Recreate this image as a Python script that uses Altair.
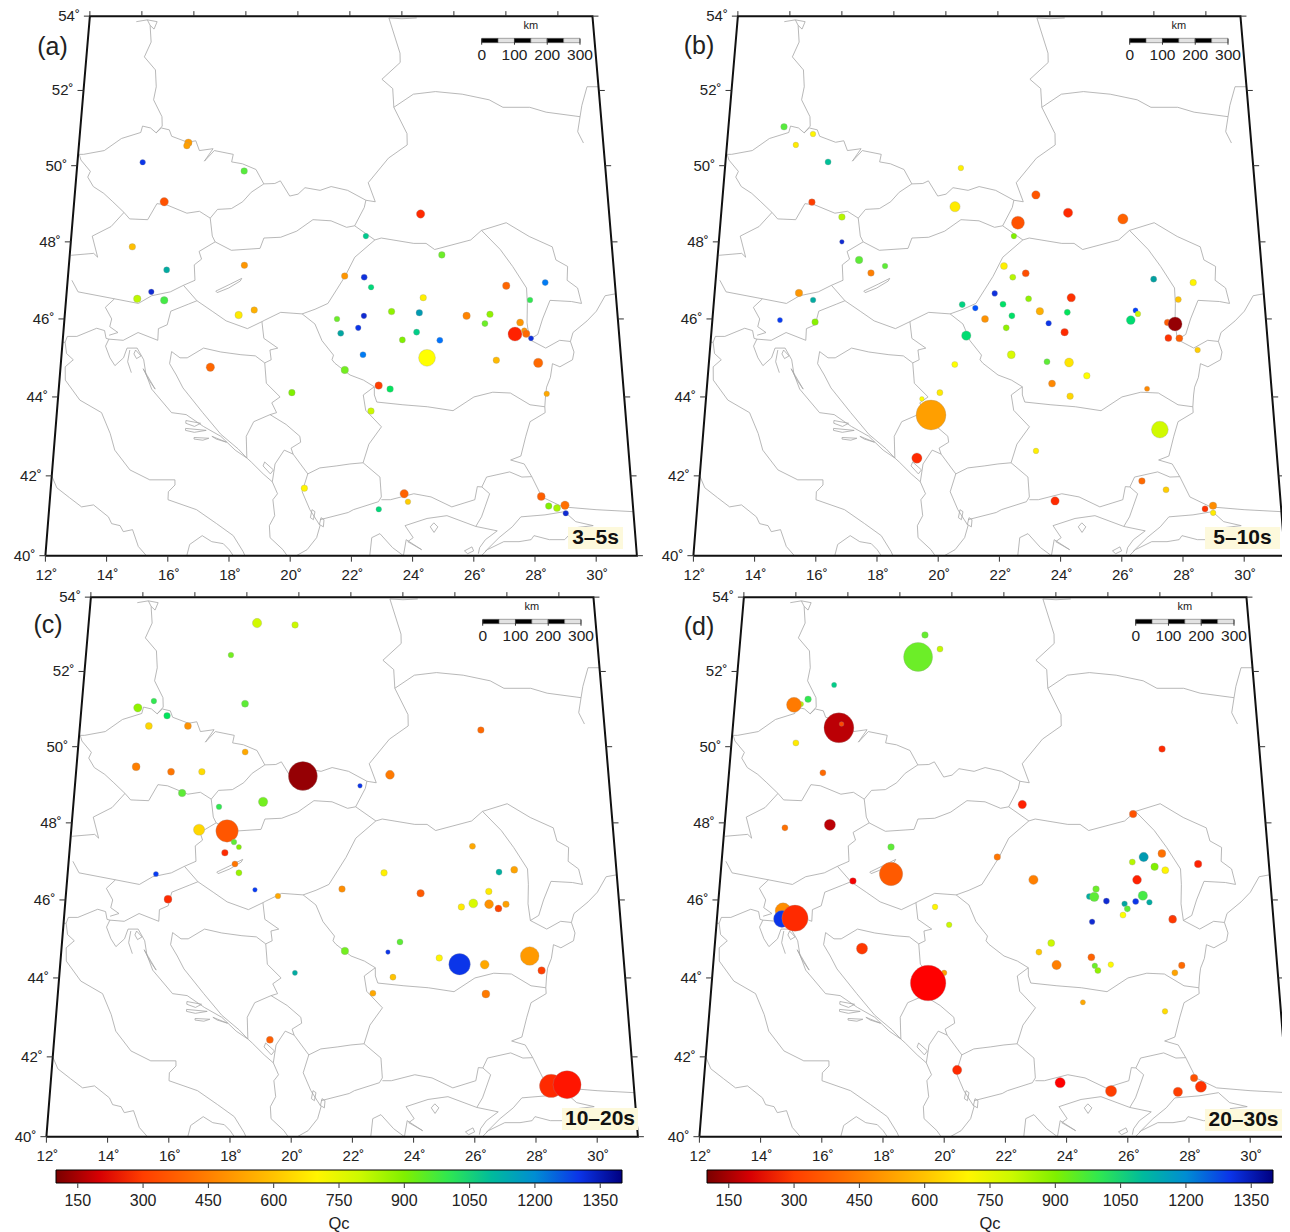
import numpy as np
import pandas as pd
import altair as alt

# ---------- Borders and coastlines, (lon, lat) ----------
GER_POL = [(14.22,53.9),(14.34,53.75),(14.42,53.3),(14.2,52.9),(14.65,52.55),(14.72,52.1),(14.65,51.75),(15.0,51.3),(15.03,51.05),(14.82,50.87)]
GER_CZE = [(14.82,50.87),(14.6,51.0),(14.3,51.05),(14.25,50.88),(13.55,50.72),(12.95,50.4),(12.2,50.3),(12.04,50.3),(12.12,50.15),(12.5,49.85),(12.42,49.7),(12.65,49.45),(13.05,49.27),(13.4,49.05),(13.83,48.77)]
CZE_AUT = [(13.83,48.77),(14.05,48.6),(14.7,48.58),(15.0,49.0),(15.35,48.97),(16.1,48.75),(16.55,48.8),(16.95,48.62)]
CZE_POL = [(14.82,50.87),(15.0,51.0),(15.3,50.95),(15.4,50.78),(16.0,50.62),(16.3,50.66),(16.45,50.4),(16.95,50.45),(16.65,50.12),(17.0,50.4),(17.7,50.3),(17.65,50.1),(18.05,50.05),(18.55,49.9),(18.85,49.52)]
CZE_SVK = [(18.85,49.52),(18.4,49.3),(18.1,49.05),(17.7,48.87),(17.2,48.85),(16.95,48.62)]
POL_SVK = [(18.85,49.52),(19.25,49.53),(19.45,49.6),(19.8,49.2),(20.1,49.25),(20.35,49.42),(20.9,49.35),(21.3,49.45),(21.9,49.35),(22.56,49.09)]
POL_EAST = [(22.56,49.09),(22.9,49.05),(22.65,49.55),(23.4,50.2),(24.1,50.55),(24.1,50.85),(23.63,51.55),(23.6,52.05),(23.2,52.3),(23.9,52.75),(23.9,53.0),(23.5,53.95),(24.0,53.93),(24.57,53.95)]
UKR_BLR = [(23.63,51.55),(24.37,51.9),(25.2,51.97),(26.2,51.9),(27.2,51.75),(27.7,51.55),(28.7,51.55),(29.3,51.42),(30.55,51.3),(30.65,51.6),(30.9,52.1),(31.33,52.1)]
KIEV_RES = [(30.55,51.3),(30.42,50.9),(30.6,50.6)]
AUT_SVK = [(16.95,48.62),(17.05,48.15),(17.16,48.0)]
HUN_SVK = [(17.16,48.0),(17.75,47.78),(18.77,47.83),(18.9,48.1),(19.5,48.12),(20.07,48.28),(20.65,48.58),(21.3,48.55),(21.86,48.38),(22.15,48.42)]
SVK_UKR = [(22.15,48.42),(22.5,48.9),(22.56,49.09)]
HUN_UKR = [(22.15,48.42),(22.87,48.05)]
RO_HUN = [(22.87,48.05),(22.15,47.6),(21.8,47.1),(21.5,46.75),(21.2,46.4),(20.75,46.25),(20.3,46.13)]
HUN_SRB = [(20.3,46.13),(19.55,46.17),(19.0,45.97),(18.9,45.93)]
HUN_HRV = [(18.9,45.93),(18.4,45.75),(17.65,45.95),(17.15,46.2),(16.6,46.47)]
HUN_AUT = [(16.6,46.47),(16.1,46.87),(16.5,47.0),(16.45,47.4),(16.7,47.55),(16.6,47.75),(17.16,48.0)]
AUT_SVN = [(16.1,46.87),(15.65,46.7),(15.0,46.6),(14.55,46.4),(13.7,46.52)]
AUT_ITA = [(13.7,46.52),(12.4,46.7),(12.15,47.0)]
AUT_GER = [(13.83,48.77),(13.4,48.4),(12.75,48.15),(13.0,47.6),(12.85,47.7),(12.05,47.65)]
SVN_ITA = [(13.7,46.52),(13.4,46.3),(13.65,46.0),(13.6,45.8),(13.9,45.65),(13.6,45.58)]
SVN_HRV = [(16.6,46.47),(16.3,46.38),(15.7,46.2),(15.6,45.85),(15.3,45.75),(15.3,45.45),(14.6,45.65),(14.1,45.45),(13.6,45.48)]
BIH_N = [(15.8,45.16),(16.1,45.0),(16.35,45.0),(16.9,45.25),(17.5,45.15),(18.2,45.08),(18.7,45.05),(19.03,44.87)]
BIH_S = [(15.8,45.16),(15.75,44.85),(16.0,44.56),(16.25,44.23),(16.96,43.6),(17.6,43.05),(18.2,42.68),(18.5,42.45)]
HRV_SRB = [(18.9,45.93),(18.98,45.5),(19.47,45.25),(19.2,45.2),(19.25,44.95),(19.03,44.87)]
BIH_SRB = [(19.03,44.87),(19.1,44.35),(19.58,44.0),(19.3,43.85),(19.47,43.6),(19.25,43.55)]
BIH_MNE = [(19.25,43.55),(18.7,43.37),(18.46,43.0),(18.5,42.45)]
SRB_MNE = [(19.25,43.55),(19.8,43.3),(20.27,43.0),(20.3,42.85),(19.98,42.7),(20.05,42.55)]
MNE_ALB = [(20.05,42.55),(19.75,42.65),(19.45,42.3),(19.37,41.85)]
ALB_E = [(20.05,42.55),(20.55,42.05),(20.37,41.6),(20.63,41.15),(20.97,40.75),(20.86,40.45),(20.55,40.15),(20.2,40.0)]
MKD_N = [(20.55,42.05),(20.95,42.2),(21.5,42.25),(21.96,42.3),(22.4,42.33)]
MKD_BGR = [(22.4,42.33),(22.96,41.97),(23.0,41.47)]
MKD_GRC = [(20.97,40.9),(21.9,41.08),(22.07,41.15),(22.9,41.35),(23.0,41.47)]
BGR_GRC = [(23.0,41.4),(23.3,41.4),(24.08,41.55),(24.65,41.47),(25.33,41.22),(26.1,41.4),(26.2,41.73),(26.35,41.72)]
GRC_TUR = [(26.35,41.72),(26.6,41.55),(26.43,41.22),(26.3,40.97),(26.1,40.73)]
BGR_TUR = [(26.35,41.72),(26.52,41.97),(27.3,42.1),(27.7,41.97),(28.03,41.98)]
BG_COAST = [(28.03,41.98),(27.8,42.3),(27.35,42.4),(27.7,42.5),(27.9,43.0),(28.07,43.37),(28.6,43.6),(28.6,43.75)]
BGR_RO = [(28.6,43.75),(28.1,43.8),(27.45,44.1),(26.85,44.12),(26.2,44.0),(25.47,43.65),(24.6,43.75),(23.77,43.8),(22.88,43.87),(22.8,44.05),(22.8,44.26)]
BGR_SRB = [(22.8,44.26),(22.42,44.05),(22.5,43.66),(23.03,43.24),(22.6,42.8),(22.4,42.33)]
RO_SRB = [(20.3,46.13),(20.75,45.87),(21.0,45.44),(21.4,45.07),(21.35,44.95),(21.45,44.86),(21.97,44.56),(22.43,44.43),(22.8,44.26)]
RO_UKR = [(22.87,48.05),(23.1,48.1),(24.26,47.96),(24.7,47.96),(25.0,47.8),(26.3,48.05),(26.7,48.3)]
RO_MDA = [(26.7,48.3),(27.34,47.8),(27.75,47.36),(28.2,46.8),(28.2,46.4),(28.15,45.9),(28.2,45.47)]
MDA_UKR = [(26.7,48.3),(27.6,48.5),(28.4,48.14),(29.2,47.87),(29.3,47.53),(29.7,47.36),(29.65,47.0),(30.0,46.8),(30.1,46.4),(29.75,46.45),(29.0,46.48),(28.7,46.0),(28.5,45.6),(28.2,45.47)]
DANUBE = [(28.2,45.47),(28.75,45.25),(29.25,45.45),(29.62,45.42)]
BLACK_N = [(31.33,46.65),(30.95,46.6),(30.6,46.2),(30.25,45.95),(29.73,45.65),(29.62,45.42),(29.72,45.15),(29.65,44.95),(29.2,44.77),(28.95,44.85),(28.85,44.5),(28.7,44.25),(28.65,44.05),(28.6,43.75)]
TUR_N = [(28.03,41.98),(28.33,41.47),(29.0,41.22),(30.1,41.15),(31.33,41.1)]
TUR_MARM_N = [(29.05,41.1),(28.4,41.02),(27.6,40.97),(27.3,40.72),(26.85,40.45),(26.37,40.1)]
TUR_MARM_S = [(29.05,41.1),(29.4,40.85),(29.97,40.75),(29.4,40.7),(29.0,40.4),(28.5,40.4),(28.0,40.5),(27.9,40.4),(27.5,40.35),(27.0,40.35),(26.45,40.15),(26.25,40.0)]
SAROS = [(26.1,40.73),(26.8,40.62),(26.4,40.4),(26.2,40.2),(26.15,40.05)]
GRC_COAST = [(26.1,40.73),(25.16,41.0),(24.5,40.93),(23.77,40.75),(24.03,40.45),(23.85,40.35),(24.3,40.15),(23.8,40.4),(23.7,40.0),(23.35,40.2),(22.94,40.55),(22.67,40.45),(22.6,40.0)]
THASOS = [(24.6,40.72),(24.72,40.82),(24.85,40.72),(24.72,40.58),(24.6,40.72)]
GOKCEADA = [(25.7,40.12),(25.95,40.22),(26.0,40.12),(25.8,40.05),(25.7,40.12)]
ITA_EAST = [(12.0,45.4),(12.09,45.4),(12.15,45.55),(12.48,45.55),(13.15,45.76),(13.43,45.7),(13.5,45.5)]
ITA_ADR = [(12.09,45.4),(12.17,45.11),(12.42,44.95),(12.16,44.77),(12.2,44.43),(12.75,43.92),(13.52,43.6),(13.86,43.07),(14.05,42.65),(14.6,42.15),(15.28,41.9),(16.12,41.9),(16.13,41.77),(15.92,41.6),(15.92,41.4),(16.88,41.15),(17.56,40.8),(18.12,40.5),(18.46,40.1),(18.52,40.0)]
ITA_TAR = [(16.62,40.0),(16.7,40.28),(17.1,40.5),(17.42,40.35),(17.8,40.3),(18.0,40.15),(18.14,40.0)]
ITA_TYR = [(12.0,42.0),(12.2,41.7),(12.65,41.45),(13.07,41.22),(13.46,41.27),(13.98,40.97),(14.1,40.8),(14.38,40.75),(14.5,40.6),(14.8,40.65),(15.02,40.23),(15.3,40.0)]
HRV_COAST = [(13.5,45.5),(13.6,45.48),(13.5,45.3),(13.68,45.0),(13.87,44.8),(14.15,45.0),(14.25,45.25),(14.6,45.25),(14.85,44.95),(14.95,44.6),(15.18,44.2),(15.9,43.6),(16.4,43.55),(17.0,43.25),(17.6,43.0),(18.1,42.65),(18.5,42.45),(18.65,42.35),(19.06,42.05),(19.37,41.85)]
ALB_COAST = [(19.37,41.85),(19.55,41.55),(19.4,41.4),(19.47,41.0),(19.3,40.75),(19.33,40.45),(19.76,40.15),(19.9,40.0)]
CRES = [(14.35,45.2),(14.3,44.9),(14.45,44.62)]
KRK = [(14.55,45.2),(14.75,45.05),(14.6,44.98),(14.5,45.1),(14.55,45.2)]
PAG = [(14.85,44.72),(15.05,44.45),(15.3,44.2),(15.0,44.55),(14.85,44.72)]
BRAC = [(16.4,43.4),(16.9,43.33),(16.7,43.25),(16.4,43.33),(16.4,43.4)]
HVAR = [(16.4,43.2),(17.1,43.15),(16.7,43.1),(16.4,43.15),(16.4,43.2)]
KORCULA = [(16.7,42.97),(17.2,42.95),(17.0,42.9),(16.7,42.93),(16.7,42.97)]
PELJESAC = [(17.3,43.0),(17.8,42.85),(17.45,42.93),(17.3,43.0)]
BALATON = [(17.25,46.72),(17.75,46.9),(18.15,47.05),(18.1,46.98),(17.7,46.8),(17.3,46.68),(17.25,46.72)]
SKADAR = [(19.1,42.35),(19.4,42.15),(19.3,42.05),(19.05,42.25),(19.1,42.35)]
OHRID = [(20.7,41.15),(20.65,40.95),(20.75,40.9),(20.8,41.1),(20.7,41.15)]
PRESPA = [(21.0,40.95),(20.95,40.78),(21.08,40.72),(21.1,40.9),(21.0,40.95)]
SZCZECIN = [(13.8,53.85),(14.22,53.9),(14.6,53.85),(14.5,53.65),(14.34,53.75)]
BORDER_LINES = [GER_POL,GER_CZE,CZE_AUT,CZE_POL,CZE_SVK,POL_SVK,POL_EAST,UKR_BLR,KIEV_RES,AUT_SVK,HUN_SVK,SVK_UKR,HUN_UKR,RO_HUN,HUN_SRB,HUN_HRV,HUN_AUT,AUT_SVN,AUT_ITA,AUT_GER,SVN_ITA,SVN_HRV,BIH_N,BIH_S,HRV_SRB,BIH_SRB,BIH_MNE,SRB_MNE,MNE_ALB,ALB_E,MKD_N,MKD_BGR,MKD_GRC,BGR_GRC,GRC_TUR,BGR_TUR,BG_COAST,BGR_RO,BGR_SRB,RO_SRB,RO_UKR,RO_MDA,MDA_UKR,DANUBE,BLACK_N,TUR_N,TUR_MARM_N,TUR_MARM_S,SAROS,GRC_COAST,THASOS,GOKCEADA,ITA_EAST,ITA_ADR,ITA_TAR,ITA_TYR,HRV_COAST,ALB_COAST,CRES,KRK,PAG,BRAC,HVAR,KORCULA,PELJESAC,BALATON,SKADAR,OHRID,PRESPA,SZCZECIN]

# ---------- Stations: (lon, lat, Qc, marker diameter) ----------
POINTS_A = [(14.39,50.09,1300,6),(16.03,50.61,510,8),(15.98,50.53,520,7),(18.12,49.86,960,7),(15.26,49.05,340,9),(14.21,47.87,590,7),(15.48,47.27,1130,6.5),(18.23,47.39,500,7),(21.79,47.11,500,7),(24.53,48.73,270,9),(22.55,48.15,1070,6),(25.25,47.66,930,7),(22.48,47.08,1310,6.5),(22.72,46.82,1040,6),(27.49,46.86,390,8),(28.87,46.94,1230,6.5),(14.98,46.7,1320,6),(14.5,46.52,820,8),(15.45,46.48,980,8),(18.08,46.1,680,8),(18.62,46.23,560,7),(17.16,44.76,390,9),(19.98,44.11,900,7),(20.44,41.69,700,7),(21.52,46.0,930,6),(21.65,45.63,1140,6.5),(21.79,44.69,920,8),(24.55,46.55,690,7),(23.43,46.19,880,7),(24.4,46.16,1170,7),(22.46,46.08,1320,6),(22.26,45.77,1300,6),(24.29,45.66,1060,6.5),(23.79,45.46,900,6.5),(25.09,45.45,1240,6.5),(22.42,45.08,1230,6.5),(24.63,45.0,720,18),(22.95,44.29,300,8),(23.34,44.2,1010,7),(22.68,43.64,800,7),(26.05,46.08,460,8),(26.87,46.12,880,7),(26.68,45.88,930,6.5),(28.3,46.49,1000,6),(27.91,45.91,500,7.5),(27.71,45.61,260,15),(28.04,45.7,500,6),(28.1,45.62,400,8),(28.26,45.5,1310,5.5),(27.02,44.94,580,7),(28.46,44.87,400,10),(28.69,44.08,540,6),(23.76,41.55,380,9),(23.88,41.35,620,6),(22.91,41.16,1040,6),(28.31,41.48,370,8.5),(28.54,41.24,900,7),(28.81,41.19,850,7.5),(29.08,41.26,420,9),(29.09,41.06,1320,6)]
POINTS_B = [(19.69,43.54,520,32),(14.06,51.03,960,7),(15.15,50.84,700,6),(14.54,50.55,680,6),(15.76,50.1,1090,6.5),(20.63,49.94,690,6),(15.25,49.04,300,7),(16.36,48.65,830,7),(16.4,48.0,1320,5),(17.04,47.53,950,8),(17.48,47.19,450,7),(17.97,47.37,950,6),(14.97,46.67,500,8),(15.48,46.49,1130,6),(14.36,45.97,1290,5.5),(15.59,45.92,890,7),(20.43,48.92,680,11),(22.7,48.5,340,14),(23.36,49.23,350,9),(24.51,48.76,270,10),(26.48,48.6,380,11),(22.55,48.15,900,6),(22.19,47.37,690,7.5),(22.5,47.08,830,6.5),(22.96,47.18,330,7.5),(21.86,46.66,1310,6),(20.72,46.37,1050,6.5),(21.18,46.28,1270,6),(22.15,46.38,1020,6.5),(23.05,46.52,880,6.5),(24.55,46.55,280,9),(24.4,46.17,1010,6.5),(23.44,46.2,560,8),(21.52,46.0,490,7.5),(22.46,46.08,1020,6.5),(22.26,45.77,880,6.5),(23.74,45.89,1300,6),(24.29,45.66,270,8),(20.87,45.57,1030,10),(22.43,45.08,780,8.5),(20.48,44.83,720,6.5),(23.66,44.9,950,6.5),(24.42,44.88,670,9.5),(25.02,44.54,720,7),(23.82,44.34,470,7.5),(24.43,44.02,640,7),(19.98,44.11,680,6.5),(19.37,43.95,720,5),(27.07,44.21,470,5.5),(27.48,47.03,1150,6.5),(26.79,46.22,1280,5.5),(26.87,46.13,800,6),(26.61,45.97,1030,9.5),(28.31,46.5,600,6.5),(28.87,46.94,700,7),(27.89,45.91,360,7),(28.15,45.87,130,15),(27.89,45.51,280,7.5),(28.27,45.5,370,7.5),(28.88,45.2,620,6),(23.24,42.63,690,6),(27.44,43.17,790,18),(19.24,42.45,270,11),(23.85,41.37,270,9),(26.76,41.87,400,7),(27.55,41.65,620,6.5),(28.81,41.17,280,6.5),(29.08,41.25,480,8),(29.07,41.07,680,6)]
POINTS_C = [(18.42,53.3,790,10),(19.87,53.25,800,7),(17.47,52.44,920,6),(18.06,51.14,950,7.5),(14.67,51.21,1000,6),(14.09,51.03,880,9),(15.19,50.82,1010,7),(14.54,50.55,640,7.5),(15.98,50.55,490,7.5),(14.17,49.47,450,8.5),(15.45,49.34,430,7.5),(16.57,49.34,650,7),(18.12,49.86,540,6.5),(20.24,49.23,130,31),(23.4,49.26,440,9.5),(26.77,50.44,400,7),(22.31,48.97,1300,5),(15.89,48.78,950,8),(18.82,48.55,920,10),(17.24,48.42,1000,6),(16.56,47.82,640,12),(17.56,47.79,350,24),(17.82,47.5,950,6),(18.0,47.37,900,5.5),(17.51,47.22,270,7),(17.88,46.93,430,6.5),(18.03,46.7,870,6.5),(15.11,46.67,1290,5.5),(15.58,46.02,270,8.5),(18.61,46.26,1290,5),(19.42,46.1,540,6),(21.66,46.28,480,7),(23.14,46.7,690,7),(26.29,47.39,540,6.5),(27.73,46.78,530,7.5),(27.19,46.72,1120,6.5),(26.8,46.22,680,7),(24.41,46.17,360,8),(26.24,45.91,780,9.5),(25.82,45.82,680,7),(26.79,45.89,490,9.5),(27.11,45.78,310,7.5),(27.38,45.89,520,7),(25.0,44.51,700,7),(25.69,44.35,1300,23),(26.55,44.34,540,9.5),(28.11,44.56,510,20),(28.49,44.19,300,8),(21.76,44.69,920,8),(23.24,44.66,1300,5),(23.66,44.92,950,6.5),(23.4,44.02,600,6.5),(22.71,43.61,540,6.5),(20.05,44.13,1130,5.5),(19.24,42.43,370,7.5),(26.55,43.59,440,8.5),(28.59,41.27,270,25),(29.12,41.3,250,30)]
POINTS_D = [(19.0,52.98,940,7),(19.58,52.6,810,6.5),(18.76,52.39,930,31),(15.65,51.64,1060,5.5),(14.71,51.26,1000,7),(14.46,51.13,830,5.5),(14.2,51.11,440,16),(14.36,50.1,680,6.5),(15.91,50.5,170,32),(16.0,50.6,320,5),(15.41,49.31,400,6.5),(27.77,49.94,270,7),(22.64,48.48,260,9),(14.16,47.87,420,6.5),(15.76,47.95,170,12),(26.61,48.23,340,8),(27.57,47.2,420,8.5),(26.92,47.11,1170,10),(26.51,46.98,830,6.5),(27.29,46.86,900,8),(27.66,46.77,700,7.5),(28.83,46.93,260,8),(26.65,46.52,260,9.5),(21.74,47.11,430,7),(23.01,46.52,450,10),(25.2,46.28,930,7),(24.96,46.09,1120,6.5),(25.13,46.08,950,10),(25.55,45.97,1320,6.5),(26.83,46.11,980,10),(26.18,45.9,1140,6),(26.57,45.96,1300,6.5),(27.05,45.94,1130,6),(26.27,45.77,950,6.5),(26.11,45.61,720,6.5),(25.03,45.44,1320,6),(27.83,45.52,190,7),(27.83,45.5,290,8.5),(23.6,44.89,800,7.5),(23.17,44.66,610,6.5),(23.77,44.33,450,10),(24.97,44.53,380,7.5),(25.08,44.31,930,6),(25.18,44.19,880,6.5),(25.63,44.34,710,6),(28.06,44.32,400,7),(27.81,44.13,530,6.5),(24.64,43.38,540,5.5),(27.41,43.15,650,6),(16.67,46.49,230,7),(17.97,47.37,950,7),(18.0,46.67,360,25),(19.57,45.82,700,6),(20.07,45.36,800,6),(14.28,45.72,480,17),(14.26,45.51,1300,18),(14.71,45.53,270,28),(17.08,44.75,290,12),(19.92,44.13,520,6),(19.38,43.87,240,38),(20.4,41.67,270,10),(23.82,41.35,240,11),(25.5,41.14,300,12),(27.71,41.12,300,10),(28.27,41.47,340,8),(28.48,41.25,280,12)]

# ---------- Colour scale and axis values ----------
QC_DOMAIN = [100,240,420,560,720,900,1000,1150,1280,1400]
QC_COLORS = ["#7a0000","#ff0000","#ff7000","#ffb000","#ffff00","#80f000","#30e850","#00a0a0","#0040ff","#000080"]
QC_TICKS = [150,300,450,600,750,900,1050,1200,1350]
LON_TICKS = [12,14,16,18,20,22,24,26,28,30]
LAT_TICKS = [40,42,44,46,48,50,52,54]
SCALE_KM = [0,50,100,150,200,250,300]
SCALE_LABELS = [0,100,200,300]

LON0, LON1, LAT0, LAT1 = 12.0, 31.33, 40.0, 54.0
W1, W2, H1, H2 = 640, 634, 580, 640
FONT = "Liberation Sans"
INK = "#222222"


def project(lon, lat):
    lon, lat = np.asarray(lon, float), np.asarray(lat, float)
    d = lat - 40.0
    k = 30.6 - 0.3286 * d
    return (lon - 21.67) * k, 40.15 * d - 0.115 * d * d


rows = []
for i, line in enumerate(BORDER_LINES):
    xs, ys = project([p[0] for p in line], [p[1] for p in line])
    for j, (x, y) in enumerate(zip(xs, ys)):
        rows.append({"line": i, "i": j, "x": float(x), "y": float(y)})
border_df = pd.DataFrame(rows)

fl = [(LON0, v) for v in LAT_TICKS] + [(LON1, v) for v in LAT_TICKS[::-1]] + [(LON0, LAT0)]
fx, fy = project([p[0] for p in fl], [p[1] for p in fl])
frame_df = pd.DataFrame({"x": fx, "y": fy, "i": range(len(fl))})

ticks = []
labels = []
for lon in LON_TICKS:
    x, y = project(lon, LAT0)
    ticks.append({"x": float(x), "x2": float(x), "y": float(y), "y2": float(y) - 6})
    labels.append({"x": float(x) + 1, "y": float(y) - 19, "t": f"{lon}˚", "a": "c"})
    x, y = project(lon, LAT1)
    ticks.append({"x": float(x), "x2": float(x), "y": float(y), "y2": float(y) + 5})
for lat in LAT_TICKS:
    x, y = project(LON0, lat)
    ticks.append({"x": float(x), "x2": float(x) - 6, "y": float(y), "y2": float(y)})
    labels.append({"x": float(x) - 10, "y": float(y), "t": f"{lat}˚", "a": "r"})
    x, y = project(LON1, lat)
    ticks.append({"x": float(x), "x2": float(x) + 6, "y": float(y), "y2": float(y)})
tick_df = pd.DataFrame(ticks)
label_df = pd.DataFrame(labels)

KM_PX = 0.3277
BAR_X = 140.4
bar_df = pd.DataFrame([
    {"x": BAR_X + a * KM_PX, "x2": BAR_X + b * KM_PX, "y": 513.0, "y2": 517.4, "n": i % 2}
    for i, (a, b) in enumerate(zip(SCALE_KM[:-1], SCALE_KM[1:]))
])
bar_tick_df = pd.DataFrame({"x": [BAR_X + v * KM_PX for v in SCALE_LABELS], "y": 517.0, "y2": 511.0})
bar_lab_df = pd.DataFrame({"x": [BAR_X + v * KM_PX for v in SCALE_LABELS], "y": 500.7,
                           "t": [str(v) for v in SCALE_LABELS]})


def panel(points, letter, letter_xy, period, box, cx, y40, width, height, legend_x=None):
    xs = alt.Scale(domain=[-cx, width - cx], nice=False, zero=False)
    ys = alt.Scale(domain=[y40 - height, y40], nice=False, zero=False)
    X = lambda f: alt.X(f, type="quantitative", scale=xs, axis=None)
    Y = lambda f: alt.Y(f, type="quantitative", scale=ys, axis=None)

    px, py = project([p[0] for p in points], [p[1] for p in points])
    pts = pd.DataFrame({"x": px, "y": py, "qc": [p[2] for p in points],
                        "d": [p[3] for p in points], "i": range(len(points))})

    legend = None
    if legend_x is not None:
        legend = alt.Legend(orient="none", legendX=legend_x, legendY=582, direction="horizontal",
                            gradientLength=566, gradientThickness=13, title="Qc", titleOrient="bottom",
                            titleAnchor="middle", titleFontWeight="normal", titleFont=FONT, titleFontSize=16.5,
                            titleColor=INK, labelFont=FONT, labelFontSize=16, labelColor=INK, format="d",
                            values=QC_TICKS, gradientStrokeColor="black", gradientStrokeWidth=1,
                            labelOffset=10, titlePadding=7, labelOverlap=False)

    layers = [
        alt.Chart(border_df).mark_line(color="#a6a6a6", strokeWidth=0.8, clip=True).encode(
            x=X("x"), y=Y("y"), detail="line:N", order="i:Q"),
        alt.Chart(frame_df).mark_line(color="#111111", strokeWidth=2, clip=True).encode(
            x=X("x"), y=Y("y"), order="i:Q"),
        alt.Chart(tick_df).mark_rule(color="#333333", strokeWidth=1, clip=True).encode(
            x=X("x"), x2="x2:Q", y=Y("y"), y2="y2:Q"),
        alt.Chart(label_df[label_df.a == "c"]).mark_text(font=FONT, fontSize=15, color=INK, align="center",
                                                         baseline="middle").encode(x=X("x"), y=Y("y"), text="t:N"),
        alt.Chart(label_df[label_df.a == "r"]).mark_text(font=FONT, fontSize=15, color=INK, align="right",
                                                         baseline="middle").encode(x=X("x"), y=Y("y"), text="t:N"),
        alt.Chart(pts).mark_circle(opacity=1, stroke="#999999", strokeWidth=0.3).encode(
            x=X("x"), y=Y("y"),
            color=alt.Color("qc:Q", scale=alt.Scale(domain=QC_DOMAIN, range=QC_COLORS), legend=legend),
            size=alt.Size("d:Q", scale=alt.Scale(type="pow", exponent=2, domain=[0, 40], range=[0, 1400]), legend=None),
            order="i:Q"),
        alt.Chart(bar_df).mark_rect(stroke="#555555", strokeWidth=0.5).encode(
            x=X("x"), x2="x2:Q", y=Y("y"), y2="y2:Q",
            color=alt.condition("datum.n == 0", alt.value("#000000"), alt.value("#e2e2e2"))),
        alt.Chart(bar_tick_df).mark_rule(color="#333333", strokeWidth=1).encode(x=X("x"), y=Y("y"), y2="y2:Q"),
        alt.Chart(bar_lab_df).mark_text(font=FONT, fontSize=15.5, color=INK, baseline="middle").encode(
            x=X("x"), y=Y("y"), text="t:N"),
        alt.Chart(pd.DataFrame({"x": [BAR_X + 150 * KM_PX], "y": [529.7], "t": ["km"]})).mark_text(
            font=FONT, fontSize=11, color=INK, baseline="middle").encode(x=X("x"), y=Y("y"), text="t:N"),
        alt.Chart(pd.DataFrame({"t": [letter]})).mark_text(font=FONT, fontSize=25, color=INK, baseline="middle").encode(
            x=alt.value(letter_xy[0]), y=alt.value(letter_xy[1]), text="t:N"),
        alt.Chart(pd.DataFrame({"t": [period]})).mark_rect(color="#fdf9dc").encode(
            x=alt.value(box[0]), x2=alt.value(box[1]), y=alt.value(box[2]), y2=alt.value(box[3])),
        alt.Chart(pd.DataFrame({"t": [period]})).mark_text(font=FONT, fontSize=21, fontWeight="bold", color="#111111",
                                                           baseline="middle").encode(
            x=alt.value((box[0] + box[1]) / 2), y=alt.value((box[2] + box[3]) / 2), text="t:N"),
    ]
    if legend_x is not None:
        q = pd.DataFrame({"x": [legend_x - cx + (v - 100) * 566 / 1300 for v in QC_TICKS]})
        q["y"] = y40 - 595.5
        q["y2"] = y40 - 600.0
        layers.append(alt.Chart(q).mark_rule(color="#333333", strokeWidth=1).encode(x=X("x"), y=Y("y"), y2="y2:Q"))
    return alt.layer(*layers).resolve_scale(color="independent").properties(width=width, height=height)


a = panel(POINTS_A, "(a)", (44.5, 39), "3–5s", (560, 615, 519, 541), 333.3, 547.7, W1, H1)
b = panel(POINTS_B, "(b)", (51, 38), "5–10s", (557, 632, 519, 541), 341.3, 547.7, W2, H1)
c = panel(POINTS_C, "(c)", (40, 37), "10–20s", (554, 630, 520, 542), 334.3, 548.7, W1, H2, legend_x=48)
d = panel(POINTS_D, "(d)", (51, 39), "20–30s", (557, 634, 521, 543), 347.3, 548.7, W2, H2, legend_x=59)

chart = alt.concat(a, b, c, d, columns=2, spacing=0, bounds="flush").properties(padding=0).configure_view(stroke=None)

chart.save("out.html", embed_options={"renderer": "svg", "actions": False})
